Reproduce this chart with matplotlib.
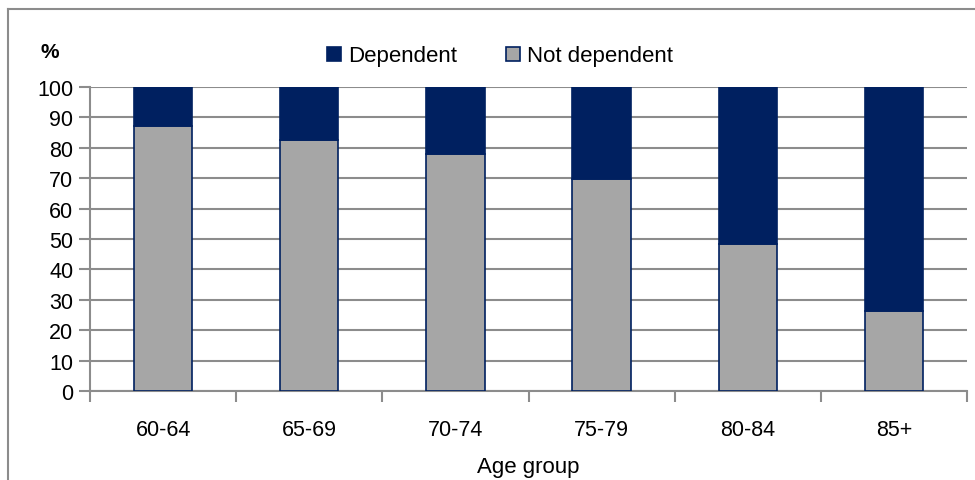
import matplotlib
matplotlib.use('Agg')
import matplotlib.pyplot as plt
import numpy as np
from matplotlib.lines import Line2D

groups = ['60-64', '65-69', '70-74', '75-79', '80-84', '85+']
not_dependent = [87.2, 82.6, 78.0, 69.7, 48.4, 26.3]
dependent = [100 - v for v in not_dependent]

navy = '#002060'
grey = '#A6A6A6'
gridc = '#8C8C8C'

plt.rcParams['font.family'] = ['Liberation Sans', 'DejaVu Sans']

fig = plt.figure(figsize=(9.75, 4.81), dpi=100)
ax = fig.add_axes([90/975, 1 - 392/481, 877/975, 304/481])

x = np.arange(len(groups))
ax.bar(x, not_dependent, width=0.4, color=grey, edgecolor=navy, linewidth=1.2,
       label='Not dependent', zorder=3)
ax.bar(x, dependent, width=0.4, bottom=not_dependent, color=navy, edgecolor=navy,
       linewidth=1.2, label='Dependent', zorder=3)

ax.set_xlim(-0.5, len(groups) - 0.5)
ax.set_ylim(0, 100)
ax.set_yticks(range(0, 101, 10))
ax.yaxis.grid(True, color=gridc, linewidth=1.5, zorder=0)
ax.set_axisbelow(True)

ax.set_xticks(x)
ax.set_xticklabels(groups)
ax.set_xticks(np.arange(-0.5, len(groups)), minor=True)
ax.tick_params(axis='x', which='major', length=0, pad=20, labelsize=15.5)
ax.tick_params(axis='x', which='minor', length=8, width=1.5, color=gridc, direction='out')
ax.tick_params(axis='y', length=8, width=1.5, color=gridc, direction='out', labelsize=15.5, pad=4)

for s in ['top', 'right']:
    ax.spines[s].set_visible(False)
for s in ['left', 'bottom']:
    ax.spines[s].set_color(gridc)
    ax.spines[s].set_linewidth(1.5)

ax.set_xlabel('Age group', fontsize=16, labelpad=12)
fig.text(50/975, 1 - 52/481, '%', fontsize=15, fontweight='bold', ha='center', va='center')

h, l = ax.get_legend_handles_labels()
ax.legend(h[::-1], l[::-1], loc='center', bbox_to_anchor=(0.468, 1 + 31/304), ncol=2,
          frameon=False, fontsize=16, handlelength=0.6, handleheight=0.6,
          handletextpad=0.35, columnspacing=2.2, borderaxespad=0)

# outer frame
fig.add_artist(Line2D([8/975, 1], [1 - 10/481, 1 - 10/481], color=gridc, linewidth=1.5))
fig.add_artist(Line2D([8/975, 8/975], [0, 1 - 10/481], color=gridc, linewidth=1.5))

fig.savefig('out.png', dpi=100)
